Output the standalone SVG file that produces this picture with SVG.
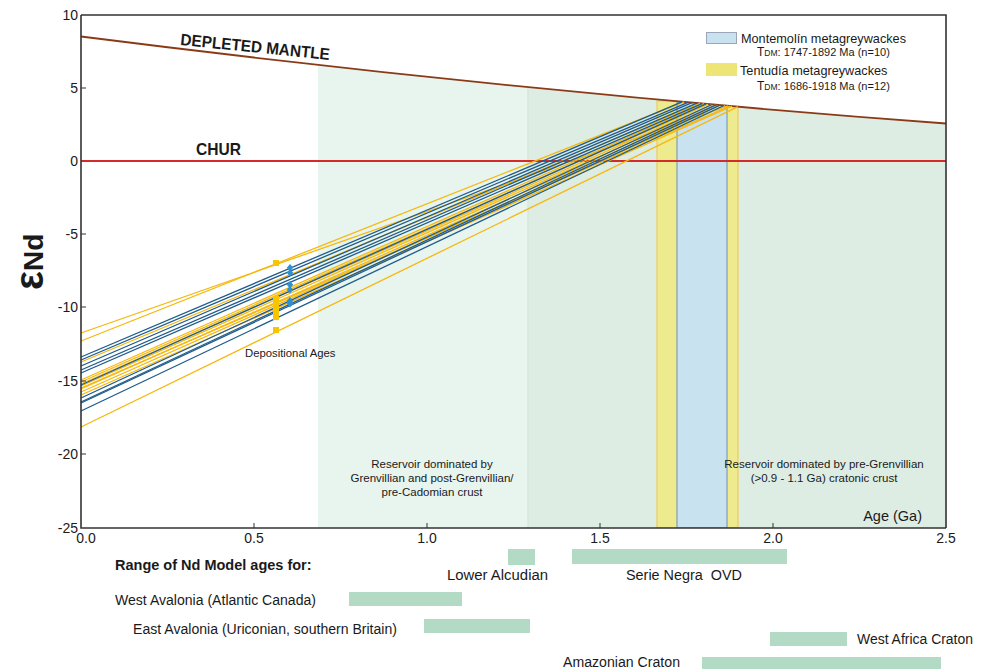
<svg xmlns="http://www.w3.org/2000/svg" width="988" height="669" viewBox="0 0 988 669">
<style>
text{font-family:"Liberation Sans",Arial,sans-serif;fill:#1a1a1a}
.tick{font-size:14px}
.lbl{font-size:11.5px}
.bl{stroke:#1f5b8c;stroke-width:1.3;fill:none}
.yl{stroke:#f5b80f;stroke-width:1.3;fill:none}
.bar{fill:#b3dac5}
.bt{font-size:14px;white-space:pre}
.ax{stroke:#333;stroke-width:1.6;fill:none}
</style>
<defs>
<clipPath id="underDM"><path d="M81,36.5 Q513.5,91.4 946,123.5 L946,528 L81,528 Z"/></clipPath>
</defs>
<rect width="988" height="669" fill="#fff"/>
<g id="regions" clip-path="url(#underDM)">
<rect x="318" y="15" width="210" height="513" fill="#e8f4ee"/>
<rect x="528" y="15" width="418" height="513" fill="#deede3"/>
<line x1="528" y1="15" x2="528" y2="528" stroke="#cfe3d6" stroke-width="1"/>
<rect x="657" y="101" width="81" height="427" fill="#eeea8e" stroke="#f2c440" stroke-width="1"/>
<rect x="677" y="102" width="50" height="426" fill="#c8e3ef" stroke="#7f9db6" stroke-width="1.2"/>
</g>
<g id="curves">
<path d="M81,36.5 Q513.5,91.4 946,123.5" stroke="#8b3a17" stroke-width="1.8" fill="none"/>
<line x1="81" y1="161" x2="946" y2="161" stroke="#d42a2a" stroke-width="1.8"/>
</g>
<g id="connectors">
<line class="yl" x1="81" y1="333" x2="728" y2="105.9"/>
<line class="yl" x1="81" y1="341" x2="684" y2="101.9"/>
<line class="yl" x1="81" y1="362" x2="700" y2="103.4"/>
<line class="yl" x1="81" y1="380" x2="704" y2="103.7"/>
<line class="yl" x1="81" y1="382" x2="708" y2="104.1"/>
<line class="yl" x1="81" y1="384" x2="712" y2="104.5"/>
<line class="yl" x1="81" y1="386" x2="716" y2="104.8"/>
<line class="yl" x1="81" y1="388" x2="730" y2="106.0"/>
<line class="yl" x1="81" y1="389" x2="720" y2="105.2"/>
<line class="yl" x1="81" y1="392" x2="725" y2="105.6"/>
<line class="yl" x1="81" y1="395" x2="732" y2="106.2"/>
<line class="yl" x1="81" y1="427" x2="738" y2="106.7"/>
<line class="bl" x1="81" y1="357" x2="682" y2="101.8"/>
<line class="bl" x1="81" y1="360" x2="688" y2="102.3"/>
<line class="bl" x1="81" y1="366" x2="692" y2="102.7"/>
<line class="bl" x1="81" y1="370" x2="697" y2="103.1"/>
<line class="bl" x1="81" y1="373" x2="702" y2="103.6"/>
<line class="bl" x1="81" y1="385" x2="706" y2="103.9"/>
<line class="bl" x1="81" y1="398" x2="712" y2="104.5"/>
<line class="bl" x1="81" y1="402" x2="716" y2="104.8"/>
<line class="bl" x1="81" y1="403" x2="720" y2="105.2"/>
<line class="bl" x1="81" y1="411" x2="724" y2="105.5"/>
</g>
<g id="markers">
<g fill="#f7c600">
<rect x="273" y="260" width="6" height="6"/>
<rect x="273" y="296" width="6" height="6"/>
<rect x="273" y="300" width="6" height="6"/>
<rect x="273" y="304" width="6" height="6"/>
<rect x="273" y="308" width="6" height="6"/>
<rect x="273" y="314" width="6" height="6"/>
<rect x="273" y="327" width="6" height="6"/>
</g>
<g fill="#2f8fd0">
<path d="M290,264 l3.2,3.8 l-3.2,3.8 l-3.2,-3.8 z"/>
<path d="M290,269 l3.2,3.8 l-3.2,3.8 l-3.2,-3.8 z"/>
<path d="M290,281 l3.2,3.8 l-3.2,3.8 l-3.2,-3.8 z"/>
<path d="M290,286 l3.2,3.8 l-3.2,3.8 l-3.2,-3.8 z"/>
<path d="M290,297 l3.2,3.8 l-3.2,3.8 l-3.2,-3.8 z"/>
<path d="M290,300 l3.2,3.8 l-3.2,3.8 l-3.2,-3.8 z"/>
</g>
</g>
<g id="axes">
<path class="ax" d="M81,15 L946,15 L946,528 M81,15 L81,528 L946,528"/>
<g stroke="#333" stroke-width="1">
<line x1="81" y1="88" x2="86" y2="88"/>
<line x1="81" y1="234" x2="86" y2="234"/>
<line x1="81" y1="307" x2="86" y2="307"/>
<line x1="81" y1="381" x2="86" y2="381"/>
<line x1="81" y1="454" x2="86" y2="454"/>
<line x1="254" y1="523" x2="254" y2="528"/>
<line x1="427" y1="523" x2="427" y2="528"/>
<line x1="600" y1="523" x2="600" y2="528"/>
<line x1="773" y1="523" x2="773" y2="528"/>
</g>
<g class="tick" text-anchor="end">
<text x="78" y="20">10</text>
<text x="78" y="93">5</text>
<text x="78" y="166">0</text>
<text x="78" y="239">-5</text>
<text x="78" y="312">-10</text>
<text x="78" y="386">-15</text>
<text x="78" y="459">-20</text>
<text x="78" y="533">-25</text>
</g>
<g class="tick" text-anchor="middle">
<text x="86" y="543">0.0</text>
<text x="254" y="543">0.5</text>
<text x="427" y="543">1.0</text>
<text x="600" y="543">1.5</text>
<text x="773" y="543">2.0</text>
<text x="946" y="543">2.5</text>
</g>
<text x="922" y="521" text-anchor="end" font-size="14.5">Age (Ga)</text>
<text transform="translate(43,290) rotate(-90)" font-weight="bold"><tspan font-size="40">ε</tspan><tspan font-size="28">Nd</tspan></text>
</g>
<g id="labels">
<text transform="translate(180,45) rotate(5.7)" font-size="16.5" font-weight="bold" textLength="150" lengthAdjust="spacingAndGlyphs">DEPLETED MANTLE</text>
<text x="196" y="155" font-size="16.5" font-weight="bold" textLength="45" lengthAdjust="spacingAndGlyphs">CHUR</text>
<text x="245" y="357" font-size="11.3">Depositional Ages</text>
<g class="lbl" text-anchor="middle">
<text x="432" y="468">Reservoir dominated by</text>
<text x="432" y="482">Grenvillian and post-Grenvillian/</text>
<text x="432" y="496">pre-Cadomian crust</text>
<text x="824" y="468">Reservoir dominated by pre-Grenvillian</text>
<text x="824" y="482">(&gt;0.9 - 1.1 Ga) cratonic crust</text>
</g>
</g>
<g id="legend">
<rect x="706.5" y="32.5" width="30" height="11" fill="#c8e3ef" stroke="#9aa6b8" stroke-width="1"/>
<text x="741" y="43" font-size="12.7">Montemolín metagreywackes</text>
<text x="757" y="56" font-size="11"><tspan font-size="12">T</tspan><tspan font-size="8.5">DM</tspan>: 1747-1892 Ma  (n=10)</text>
<rect x="706" y="63" width="31" height="13" fill="#ede676"/>
<text x="740" y="75" font-size="12.7">Tentudía metagreywackes</text>
<text x="757" y="90" font-size="11"><tspan font-size="12">T</tspan><tspan font-size="8.5">DM</tspan>: 1686-1918 Ma  (n=12)</text>
</g>
<g id="model-ages">
<text x="115" y="570" font-size="14.5" font-weight="bold">Range of Nd Model ages for:</text>
<rect class="bar" x="508" y="549" width="27" height="16"/>
<text class="bt" x="447" y="580" textLength="101" lengthAdjust="spacingAndGlyphs">Lower Alcudian</text>
<rect class="bar" x="572" y="549" width="215" height="15"/>
<text class="bt" x="626" y="580" textLength="116" lengthAdjust="spacingAndGlyphs">Serie Negra  OVD</text>
<rect class="bar" x="349" y="592" width="113" height="14"/>
<text class="bt" x="115" y="605" textLength="201" lengthAdjust="spacingAndGlyphs">West Avalonia (Atlantic Canada)</text>
<rect class="bar" x="424" y="619" width="106" height="14"/>
<text class="bt" x="133" y="634" textLength="264" lengthAdjust="spacingAndGlyphs">East Avalonia (Uriconian, southern Britain)</text>
<rect class="bar" x="770" y="632" width="77" height="14"/>
<text class="bt" x="857" y="644" textLength="116" lengthAdjust="spacingAndGlyphs">West Africa Craton</text>
<rect class="bar" x="702" y="657" width="239" height="14"/>
<text class="bt" x="563" y="667" textLength="117" lengthAdjust="spacingAndGlyphs">Amazonian Craton</text>
</g>
</svg>
